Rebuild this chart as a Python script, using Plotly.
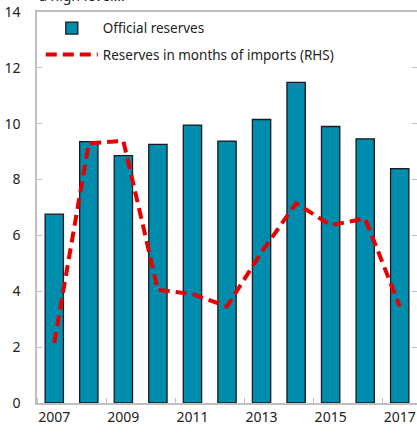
import plotly.graph_objects as go

years = [2007, 2008, 2009, 2010, 2011, 2012, 2013, 2014, 2015, 2016, 2017]
official_reserves = [6.76, 9.36, 8.86, 9.26, 9.95, 9.38, 10.15, 11.48, 9.9, 9.46, 8.39]
months_of_imports = [2.15, 9.3, 9.38, 4.05, 3.9, 3.46, 5.4, 7.15, 6.37, 6.6, 3.46]
year_labels = [2007, 2009, 2011, 2013, 2015, 2017]
left_ticks = [0, 2, 4, 6, 8, 10, 12, 14]

FONT = "Noto Sans"
AXIS_COLOR = "#bfbfbf"

fig = go.Figure()
fig.add_trace(go.Bar(
    x=years, y=official_reserves, name="Official reserves",
    marker=dict(color="#008cad", line=dict(color="#1a1a1a", width=1.3)),
    width=0.53, legendgroup="a",
))
fig.add_trace(go.Scatter(
    x=years, y=months_of_imports, name="Reserves in months of imports (RHS)",
    mode="lines", yaxis="y2",
    line=dict(color="#e60000", width=4, dash="11px,6px"),
    legendgroup="b",
))

fig.update_layout(
    width=417, height=435,
    margin=dict(l=37, r=0, t=11.5, b=31.5, autoexpand=False),
    paper_bgcolor="white", plot_bgcolor="white",
    font=dict(family=FONT, size=14, color="#222222"),
    showlegend=True,
    legend=dict(
        x=0.01, y=0.998, xanchor="left", yanchor="top",
        bgcolor="rgba(0,0,0,0)", font=dict(size=13.5, color="#222222"),
        tracegroupgap=6, itemwidth=52, traceorder="grouped",
    ),
    xaxis=dict(
        range=[2006.5, 2017.5], tickmode="array", tickvals=year_labels,
        ticks="", showline=True, linecolor=AXIS_COLOR, linewidth=1.5,
        mirror=True, showgrid=False, zeroline=False, automargin=False,
        tickfont=dict(size=14),
        minor=dict(tick0=2008.5, dtick=2, ticks="inside", ticklen=5,
                   tickcolor=AXIS_COLOR, showgrid=False),
    ),
    yaxis=dict(
        range=[0, 14], tickmode="array", tickvals=left_ticks,
        ticks="inside", ticklen=5, tickcolor=AXIS_COLOR,
        showline=True, linecolor=AXIS_COLOR, linewidth=1.5, automargin=False,
        showgrid=False, zeroline=False, ticklabelstandoff=12,
        tickfont=dict(size=14),
    ),
    yaxis2=dict(
        range=[0, 14], overlaying="y", side="right", tickmode="array",
        tickvals=left_ticks, ticks="inside", ticklen=5, tickcolor=AXIS_COLOR,
        showline=True, linecolor=AXIS_COLOR, linewidth=1.5, automargin=False,
        showgrid=False, zeroline=False, showticklabels=False,
    ),
    annotations=[dict(
        text="a high level...", xref="paper", yref="paper",
        x=0.0, y=1.0, xanchor="left", yanchor="bottom", yshift=5,
        showarrow=False, font=dict(size=14, color="#222222"),
    )],
)

fig.write_html(
    "out.html",
    config={"displayModeBar": False},
    post_script="document.body.style.margin='0';document.body.style.overflow='hidden';",
)
